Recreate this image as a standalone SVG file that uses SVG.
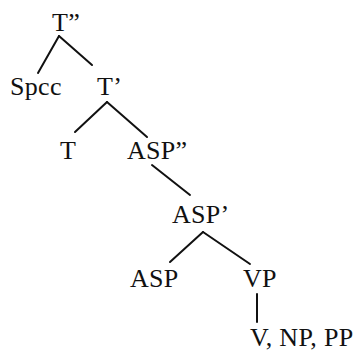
<svg xmlns="http://www.w3.org/2000/svg" width="362" height="354" viewBox="0 0 362 354">
<style>
.lbl{font-family:"Liberation Serif","Times New Roman",serif;font-size:26px;fill:#111;letter-spacing:0.3px}
.edge{stroke:#111;stroke-width:2;stroke-linecap:round;fill:none}
</style>
<rect width="362" height="354" fill="#fff"/>
<g id="connectors">
<line class="edge" x1="59" y1="36" x2="38" y2="73"/>
<line class="edge" x1="59" y1="36" x2="92" y2="65"/>
<line class="edge" x1="107" y1="102" x2="75" y2="132"/>
<line class="edge" x1="107" y1="102" x2="147" y2="137"/>
<line class="edge" x1="152" y1="165" x2="190" y2="195"/>
<line class="edge" x1="203" y1="232" x2="170" y2="262"/>
<line class="edge" x1="203" y1="232" x2="250" y2="264"/>
<line class="edge" x1="257" y1="294" x2="257" y2="322"/>
</g>
<g id="n-T2"><text class="lbl" x="52" y="31">T”</text></g>
<g id="n-Spec"><text class="lbl" x="10" y="95">Spcc</text></g>
<g id="n-T1"><text class="lbl" x="97" y="95">T’</text></g>
<g id="n-T"><text class="lbl" x="60" y="159">T</text></g>
<g id="n-ASP2"><text class="lbl" x="127" y="159">ASP”</text></g>
<g id="n-ASP1"><text class="lbl" x="172" y="223">ASP’</text></g>
<g id="n-ASP"><text class="lbl" x="130" y="287">ASP</text></g>
<g id="n-VP"><text class="lbl" x="243" y="287">VP</text></g>
<g id="n-VNP"><text class="lbl" x="250" y="346">V, NP, PP</text></g>
</svg>
